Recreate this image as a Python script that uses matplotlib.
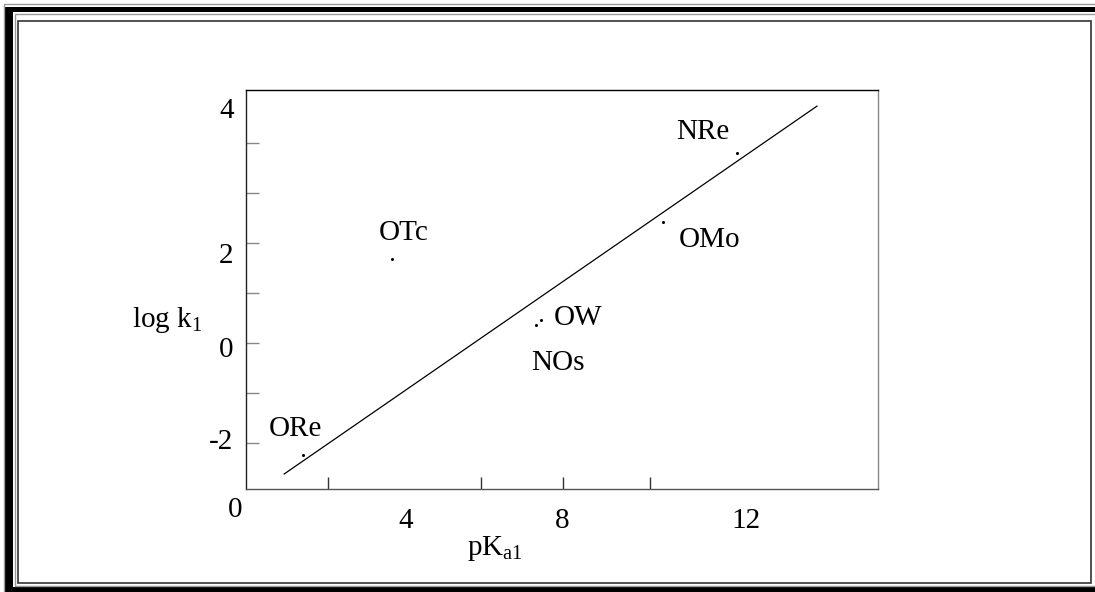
import numpy as np
import matplotlib
matplotlib.use('Agg')
import matplotlib.pyplot as plt
from matplotlib.patches import Rectangle
from matplotlib.transforms import blended_transform_factory

plt.rcParams['font.family'] = ['Liberation Serif', 'DejaVu Serif']
plt.rcParams['mathtext.fontset'] = 'custom'
plt.rcParams['mathtext.rm'] = 'Liberation Serif'
plt.rcParams['mathtext.it'] = 'Liberation Serif:italic'

# data
names = ['ORe', 'OTc', 'NOs', 'OW', 'OMo', 'NRe']
pka = [1.55, 3.70, 7.17, 7.29, 10.23, 12.01]
logk = [-2.24, 1.68, 0.36, 0.46, 2.42, 3.80]

# fitted straight line
fit_x = [1.10, 13.94]
fit_slope = 0.573
fit_icpt = -3.25

# axis ticks (the drawn ticks are not evenly spaced)
xtick_marks = [2.16, 4.04, 5.84, 7.82, 9.92, 12.23]
xlabel_pos = [4.04, 7.80, 12.23]
xlabel_txt = ['4', '8', '12']
ytick_marks = [-2, -1, 0, 1, 2, 3, 4]
ylabel_pos = [4.7, 1.8, -0.08, -1.92]
ylabel_txt = ['4', '2', '0', '-2']

# label offsets from each dot, in pixels
lab_off = [(-7, 26), (12, 26), (22, -38), (37, 2), (47, -18), (-34, 21)]

W, H = 1095, 592
fig = plt.figure(figsize=(W / 100, H / 100), dpi=100)

def rect(x, y, w, h, **kw):
    r = Rectangle((x / W, 1 - (y + h) / H), w / W, h / H,
                  transform=fig.transFigure, **kw)
    fig.add_artist(r)

# double frame around the page
rect(5, 7, 8, 585, facecolor='black', edgecolor='none')
rect(5, 7, 1090, 5, facecolor='black', edgecolor='none')
rect(5, 587, 1090, 5, facecolor='black', edgecolor='none')
rect(3.5, 3.5, 1100, 600, facecolor='none', edgecolor='#999999', lw=1.0)
rect(14.5, 13.5, 1090, 572, facecolor='none', edgecolor='#999999', lw=1.0)
rect(18, 21, 1073, 562, facecolor='none', edgecolor='#333333', lw=1.2)

ax = fig.add_axes([246 / W, 1 - 489 / H, 632 / W, 399 / H])
ax.set_xlim(0.18, 15.41)
ax.set_ylim(-2.92, 5.06)

xs = np.array(fit_x)
ax.plot(xs, fit_slope * xs + fit_icpt, color='black', lw=0.9)
ax.plot(pka, logk, 'o', color='black', ms=2.2, mew=0)

for n, x, y, off in zip(names, pka, logk, lab_off):
    ax.annotate(n, (x, y), xytext=off, textcoords='offset pixels',
                ha='center', va='center', fontsize=21)

for s, c in zip(['top', 'left', 'bottom', 'right'],
                ['black', '#222222', '#555555', '#888888']):
    ax.spines[s].set_color(c)
    ax.spines[s].set_linewidth(1.0)

ax.set_xticks(xlabel_pos)
ax.set_xticklabels(xlabel_txt, fontsize=21)
ax.set_xticks(xtick_marks, minor=True)
ax.set_yticks(ylabel_pos)
ax.set_yticklabels(ylabel_txt, fontsize=21)
ax.set_yticks(ytick_marks, minor=True)
ax.tick_params(axis='both', which='major', length=0)
ax.tick_params(axis='x', which='major', pad=14)
ax.tick_params(axis='y', which='major', pad=9)
ax.tick_params(axis='x', which='minor', direction='in', length=9,
               width=1.0, color='#333333')
ax.tick_params(axis='y', which='minor', direction='in', length=9,
               width=1.0, color='#888888')

tr = blended_transform_factory(ax.transData, ax.transAxes)
ax.text(-0.08, -0.053, '0', transform=tr, ha='center', va='center',
        fontsize=21, clip_on=False)

ax.set_ylabel(r'log $\mathrm{k_1}$', fontsize=21, rotation=0,
              ha='center', va='center')
ax.yaxis.set_label_coords(-0.125, 0.424)
ax.set_xlabel(r'$\mathrm{pK_{a1}}$', fontsize=21, ha='center', va='center')
ax.xaxis.set_label_coords(0.394, -0.148)

fig.savefig('out.png', dpi=100)
